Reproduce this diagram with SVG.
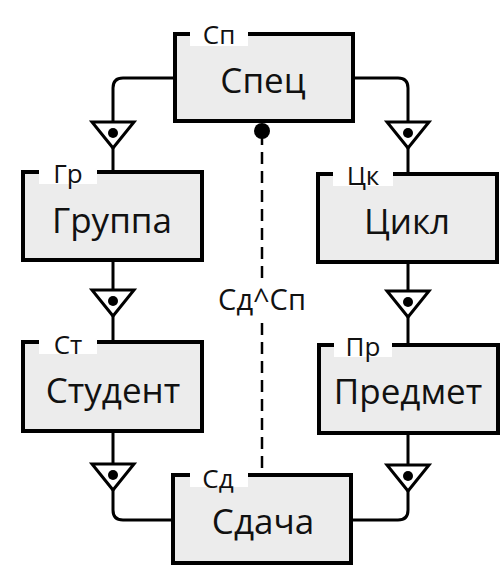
<svg xmlns="http://www.w3.org/2000/svg" width="503" height="581" viewBox="0 0 503 581">
<style>
.box{fill:#ececec;stroke:#000;stroke-width:4}
.lblbg{fill:#fff}
.name{font-family:"Open Sans","Noto Sans",sans-serif;font-size:35px;text-anchor:middle;fill:#111}
.tag{font-family:"Open Sans","Noto Sans",sans-serif;font-size:26px;text-anchor:middle;fill:#111}
.line{fill:none;stroke:#000;stroke-width:3}
.tri{fill:#fff;stroke:#000;stroke-width:3;stroke-linejoin:miter}
.dot{fill:#000}
</style>
<defs>
<g id="crow">
<polygon class="tri" points="-21,0 21,0 0,26"/>
<circle class="dot" cx="0" cy="11" r="5"/>
</g>
</defs>
<rect width="503" height="581" fill="#fff"/>
<g id="connectors">
<path class="line" d="M175,78 H123 Q113,78 113,88 V172"/>
<path class="line" d="M353,78 H398 Q408,78 408,88 V174"/>
<path class="line" d="M113,260 V342"/>
<path class="line" d="M408,262 V345"/>
<path class="line" d="M113,431 V510 Q113,520 123,520 H173"/>
<path class="line" d="M408,433 V510 Q408,520 398,520 H351"/>
<line x1="262" y1="133" x2="262" y2="475" stroke="#000" stroke-width="2.5" stroke-dasharray="12,7"/>
<circle cx="262" cy="131" r="8" fill="#000"/>
<use href="#crow" x="113" y="122"/>
<use href="#crow" x="408" y="122"/>
<use href="#crow" x="113" y="290"/>
<use href="#crow" x="408" y="291"/>
<use href="#crow" x="113" y="464"/>
<use href="#crow" x="408" y="465"/>
<rect x="210" y="284" width="106" height="32" fill="#fff"/>
<text x="262" y="310" font-family="'Open Sans','Noto Sans',sans-serif" font-size="29" text-anchor="middle" fill="#111">Сд^Сп</text>
</g>
<g id="spec">
<rect class="box" x="175" y="34" width="178" height="87"/>
<rect class="lblbg" x="190" y="22" width="58" height="24"/>
<text class="tag" x="219" y="44">Сп</text>
<text class="name" x="263" y="93">Спец</text>
</g>
<g id="gruppa">
<rect class="box" x="23" y="172" width="179" height="88"/>
<rect class="lblbg" x="39" y="160" width="58" height="24"/>
<text class="tag" x="68" y="183">Гр</text>
<text class="name" x="112" y="233">Группа</text>
</g>
<g id="cikl">
<rect class="box" x="318" y="174" width="179" height="88"/>
<rect class="lblbg" x="333" y="162" width="60" height="24"/>
<text class="tag" x="363" y="185">Цк</text>
<text class="name" x="407" y="234">Цикл</text>
</g>
<g id="student">
<rect class="box" x="23" y="342" width="179" height="89"/>
<rect class="lblbg" x="39" y="330" width="58" height="24"/>
<text class="tag" x="68" y="354">Ст</text>
<text class="name" x="113" y="403">Студент</text>
</g>
<g id="predmet">
<rect class="box" x="319" y="345" width="179" height="88"/>
<rect class="lblbg" x="334" y="333" width="58" height="24"/>
<text class="tag" x="363" y="356">Пр</text>
<text class="name" x="408" y="404">Предмет</text>
</g>
<g id="sdacha">
<rect class="box" x="173" y="475" width="178" height="88"/>
<rect class="lblbg" x="190" y="463" width="58" height="24"/>
<text class="tag" x="218" y="488">Сд</text>
<text class="name" x="263" y="534">Сдача</text>
</g>
</svg>
